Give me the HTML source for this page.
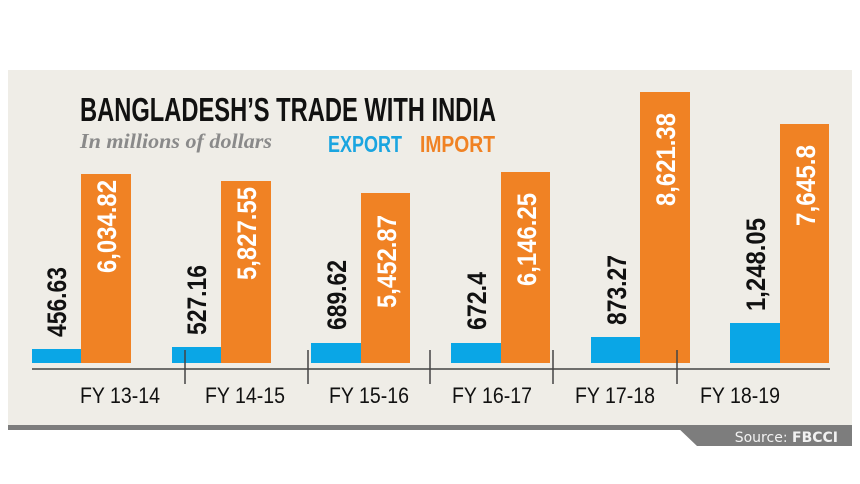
<!DOCTYPE html>
<html><head><style>
html,body{margin:0;padding:0;background:#fff;width:860px;height:484px;overflow:hidden}
</style></head><body>
<svg width="860" height="484" xmlns="http://www.w3.org/2000/svg" font-family="'Liberation Sans Narrow','Liberation Sans',sans-serif">
<rect x="0" y="0" width="860" height="484" fill="#fff"/>
<rect x="8" y="70" width="844" height="358" fill="#efede7"/>
<rect x="8" y="425" width="844" height="5" fill="#7d7d7d"/>
<polygon points="675,425 852,425 852,446 697,446" fill="#7d7d7d"/>
<text x="838" y="442" text-anchor="end" font-family="'DejaVu Sans',sans-serif" font-size="14" fill="#f2f2f2">Source: <tspan font-weight="bold">FBCCI</tspan></text>
<text x="80" y="121" font-size="33" font-weight="bold" fill="#111" textLength="416" lengthAdjust="spacingAndGlyphs">BANGLADESH’S TRADE WITH INDIA</text>
<text x="80" y="148" font-family="'Liberation Serif',serif" font-style="italic" font-weight="bold" font-size="21" fill="#8a8a8a" textLength="192" lengthAdjust="spacingAndGlyphs">In millions of dollars</text>
<text x="328" y="152" font-size="23" font-weight="bold" fill="#1aa5e0" textLength="74" lengthAdjust="spacingAndGlyphs">EXPORT</text>
<text x="420" y="152" font-size="23" font-weight="bold" fill="#f08224" textLength="75" lengthAdjust="spacingAndGlyphs">IMPORT</text>
<g id="bars">
<rect x="32" y="349" width="49" height="14" fill="#0aa6e6"/><rect x="81" y="174" width="50" height="189" fill="#f08224"/>
<rect x="172" y="347" width="49" height="16" fill="#0aa6e6"/><rect x="221" y="181" width="50" height="182" fill="#f08224"/>
<rect x="311" y="343" width="50" height="20" fill="#0aa6e6"/><rect x="361" y="193" width="49" height="170" fill="#f08224"/>
<rect x="451" y="343" width="50" height="20" fill="#0aa6e6"/><rect x="501" y="172" width="49" height="191" fill="#f08224"/>
<rect x="591" y="337" width="49" height="26" fill="#0aa6e6"/><rect x="640" y="92" width="50" height="271" fill="#f08224"/>
<rect x="730" y="323" width="50" height="40" fill="#0aa6e6"/><rect x="780" y="124" width="49" height="239" fill="#f08224"/>
</g>
<g font-size="27" font-weight="bold" lengthAdjust="spacingAndGlyphs">
<text transform="translate(66,337) rotate(-90)" fill="#111" textLength="70" lengthAdjust="spacingAndGlyphs">456.63</text>
<text transform="translate(116,273) rotate(-90)" fill="#fff" textLength="93" lengthAdjust="spacingAndGlyphs">6,034.82</text>
<text transform="translate(206,335) rotate(-90)" fill="#111" textLength="70" lengthAdjust="spacingAndGlyphs">527.16</text>
<text transform="translate(256,280) rotate(-90)" fill="#fff" textLength="93" lengthAdjust="spacingAndGlyphs">5,827.55</text>
<text transform="translate(346,330) rotate(-90)" fill="#111" textLength="70" lengthAdjust="spacingAndGlyphs">689.62</text>
<text transform="translate(396,308) rotate(-90)" fill="#fff" textLength="93" lengthAdjust="spacingAndGlyphs">5,452.87</text>
<text transform="translate(486,330) rotate(-90)" fill="#111" textLength="58" lengthAdjust="spacingAndGlyphs">672.4</text>
<text transform="translate(536,286) rotate(-90)" fill="#fff" textLength="93" lengthAdjust="spacingAndGlyphs">6,146.25</text>
<text transform="translate(626,325) rotate(-90)" fill="#111" textLength="70" lengthAdjust="spacingAndGlyphs">873.27</text>
<text transform="translate(675,206) rotate(-90)" fill="#fff" textLength="93" lengthAdjust="spacingAndGlyphs">8,621.38</text>
<text transform="translate(765,311) rotate(-90)" fill="#111" textLength="93" lengthAdjust="spacingAndGlyphs">1,248.05</text>
<text transform="translate(815,226) rotate(-90)" fill="#fff" textLength="81" lengthAdjust="spacingAndGlyphs">7,645.8</text>
</g>
<line x1="32" y1="369" x2="830" y2="369" stroke="#444" stroke-width="1.5"/>
<g stroke="#444" stroke-width="1.5">
<line x1="185" y1="350" x2="185" y2="384"/><line x1="308" y1="350" x2="308" y2="384"/>
<line x1="430" y1="350" x2="430" y2="384"/><line x1="553" y1="350" x2="553" y2="384"/>
<line x1="677" y1="350" x2="677" y2="384"/>
</g>
<g font-size="22" fill="#111" text-anchor="middle">
<text x="120" y="403" textLength="80" lengthAdjust="spacingAndGlyphs">FY 13-14</text>
<text x="245" y="403" textLength="80" lengthAdjust="spacingAndGlyphs">FY 14-15</text>
<text x="369" y="403" textLength="80" lengthAdjust="spacingAndGlyphs">FY 15-16</text>
<text x="492" y="403" textLength="80" lengthAdjust="spacingAndGlyphs">FY 16-17</text>
<text x="615" y="403" textLength="80" lengthAdjust="spacingAndGlyphs">FY 17-18</text>
<text x="740" y="403" textLength="80" lengthAdjust="spacingAndGlyphs">FY 18-19</text>
</g>
</svg>
</body></html>
